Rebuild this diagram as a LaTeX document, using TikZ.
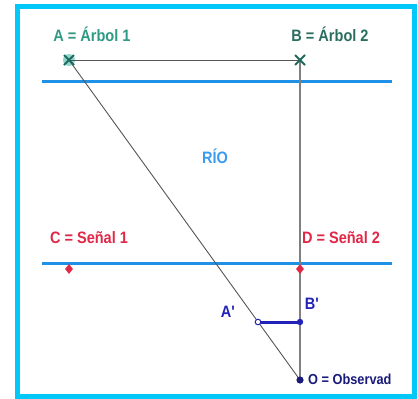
\documentclass[tikz,border=0pt]{standalone}
\usepackage{fontspec}
\setmainfont{Liberation Sans}
\newfontfamily\narrowlab[FakeStretch=0.88]{Liberation Sans}
\usetikzlibrary{shapes.geometric,calc}
\definecolor{framecyan}{HTML}{00C8F8}
\definecolor{riverblue}{HTML}{1E90E6}
\definecolor{tealA}{HTML}{2E9A86}
\definecolor{tealB}{HTML}{2A6E60}
\definecolor{markteal}{HTML}{1F6A5C}
\definecolor{halo}{HTML}{8ED6CE}
\definecolor{signred}{HTML}{E02848}
\definecolor{ptblue}{HTML}{2222B8}
\definecolor{navy}{HTML}{1A1A7A}
\definecolor{rioblue}{HTML}{3A9BEF}
\definecolor{linegray}{HTML}{555555}
\tikzset{
  lbl/.style={font=\narrowlab\bfseries\fontsize{16.5}{16.5}\selectfont, inner sep=0pt},
  river/.style={riverblue, line width=3pt},
  thin/.style={linegray, line width=0.9pt},
  xmark/.style={markteal, line width=1.8pt},
  sign/.style={diamond, fill=signred, inner sep=0pt, minimum width=8pt, minimum height=10pt},
}
\begin{document}
\begin{tikzpicture}[x=1pt,y=-1pt]
\useasboundingbox (0,0) rectangle (418,399);
\fill[white] (0,0) rectangle (418,399);
\draw[framecyan, line width=5pt] (17.5,6.5) rectangle (414.5,396.5);
% points
\coordinate (A) at (69,60);
\coordinate (B) at (300,60);
\coordinate (O) at (300,380);
\coordinate (Ap) at (258,322);
\coordinate (Bp) at (300,322);
\coordinate (L1a) at (42,81);
\coordinate (L1b) at (392,81);
\coordinate (L2a) at (42,263);
\coordinate (L2b) at (392,263);
% river banks
\draw[river] (L1a) -- (L1b);
\draw[river] (L2a) -- (L2b);
% construction lines
\fill[halo] (A) circle (6pt);
\draw[thin] (A) -- (B);
\draw[thin] (A) -- (O);
\draw[thin, line width=1.1pt, gray] (B) -- (O);
% X marks
\draw[xmark] ($(A)+(-5,-5)$) -- ($(A)+(5,5)$) ($(A)+(-5,5)$) -- ($(A)+(5,-5)$);
\draw[xmark] ($(B)+(-5,-5)$) -- ($(B)+(5,5)$) ($(B)+(-5,5)$) -- ($(B)+(5,-5)$);
% signals
\node[sign] (C) at (69,269) {};
\node[sign] (D) at (300,269) {};
% A'B'
\draw[ptblue, line width=3pt] (Ap) -- (Bp);
\fill[ptblue] (Bp) circle (3.2pt);
\draw[ptblue, fill=white, line width=1pt] (Ap) circle (2.8pt);
\fill[navy] (O) circle (3.6pt);
% labels
\node[lbl, tealA] (tA) at (92,34) {A = Árbol 1};
\node[lbl, tealB] (tB) at (330,34) {B = Árbol 2};
\node[lbl, rioblue] (tR) at (215,156) {RÍO};
\node[lbl, signred] (tC) at (89,238) {C = Señal 1};
\node[lbl, signred] (tD) at (341,238) {D = Señal 2};
\node[lbl, ptblue] (tAp) at (228,312) {A\textquotesingle};
\node[lbl, ptblue] (tBp) at (312,304) {B\textquotesingle};
\node[lbl, navy, font=\narrowlab\bfseries\fontsize{14.5}{14.5}\selectfont, anchor=west] (tO) at (308,379) {O = Observad};
\end{tikzpicture}
\end{document}
